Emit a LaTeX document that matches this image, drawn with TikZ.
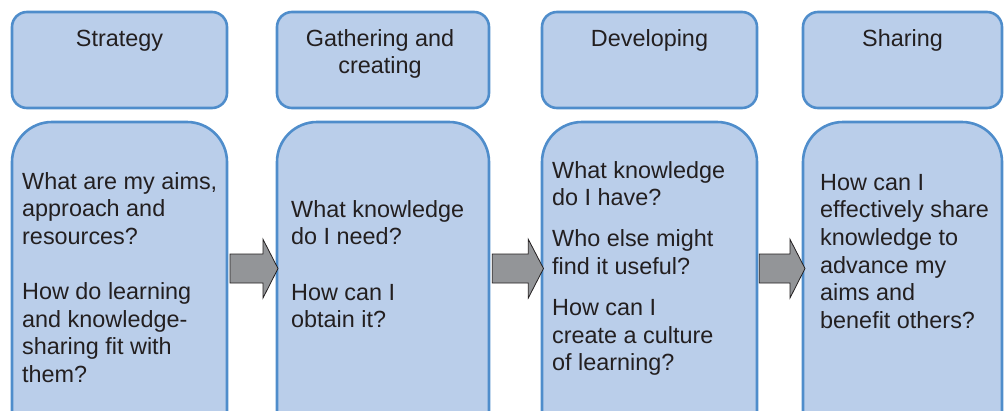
\documentclass[tikz,border=0pt]{standalone}
\usepackage{fontspec}
\setmainfont{Liberation Sans}
\definecolor{boxfill}{HTML}{BACEEA}
\definecolor{boxline}{HTML}{4F8DCB}
\definecolor{txt}{HTML}{231F20}
\definecolor{arrowfill}{HTML}{939598}
\begin{document}
\begin{tikzpicture}[x=1pt,y=-1pt,
  box/.style={draw=boxline, fill=boxfill, line width=2.6pt, inner sep=0pt},
  topbox/.style={box, rounded corners=15pt, minimum height=96pt},
  botbox/.style={box, rounded corners=40pt, minimum height=328pt},
  ttl/.style={anchor=north, align=center, inner sep=0pt, text=txt, font=\fontsize{23.4}{27.6}\selectfont},
  body/.style={anchor=north west, align=left, inner sep=0pt, text=txt, font=\fontsize{23.4}{27.6}\selectfont},
  blockarrow/.style={draw=txt, fill=arrowfill, line width=0.8pt, line join=miter}
]
\useasboundingbox (0,0) rectangle (1004,410);
\clip (0,0) rectangle (1004,410);
% top boxes
\node[topbox, minimum width=215pt] (t1) at (119.5,60) {};
\node[topbox, minimum width=212pt] (t2) at (383,60) {};
\node[topbox, minimum width=215pt] (t3) at (649.5,60) {};
\node[topbox, minimum width=199pt] (t4) at (902.5,60) {};
% bottom boxes
\node[botbox, minimum width=215pt] (b1) at (119.5,286) {};
\node[botbox, minimum width=212pt] (b2) at (383,286) {};
\node[botbox, minimum width=215pt] (b3) at (649.5,286) {};
\node[botbox, minimum width=199pt] (b4) at (902.5,286) {};
% titles
\node[ttl] (l1) at (119.5,26.7) {\strut Strategy};
\node[ttl] (l2) at (380,26.7) {\strut Gathering and\\creating};
\node[ttl] (l3) at (649.5,26.7) {\strut Developing};
\node[ttl] (l4) at (902.5,26.7) {\strut Sharing};
% bodies
\node[body] (q1) at (22,169.7) {\strut What are my aims,\\approach and\\resources?\\[27.6pt]How do learning\\and knowledge-\\sharing fit with\\them?};
\node[body] (q2) at (291,197.7) {\strut What knowledge\\do I need?\\[27.6pt]How can I\\obtain it?};
\node[body] (q3) at (552,158.7) {\strut What knowledge\\do I have?\\[13.5pt]Who else might\\find it useful?\\[13.5pt]How can I\\create a culture\\of learning?};
\node[body] (q4) at (820,170.7) {\strut How can I\\effectively share\\knowledge to\\advance my\\aims and\\benefit others?};
% block arrows between the bottom boxes
\draw[blockarrow] (230,254) -- (263,254) -- (263,239.3) -- (278,268.5) -- (263,298) -- (263,283) -- (230,283) -- cycle;
\draw[blockarrow] (492.3,254) -- (528.3,254) -- (528.3,239.3) -- (543.5,268.5) -- (528.3,298) -- (528.3,283) -- (492.3,283) -- cycle;
\draw[blockarrow] (759.3,254) -- (790,254) -- (790,239.3) -- (805,268.5) -- (790,298) -- (790,283) -- (759.3,283) -- cycle;
\end{tikzpicture}
\end{document}
